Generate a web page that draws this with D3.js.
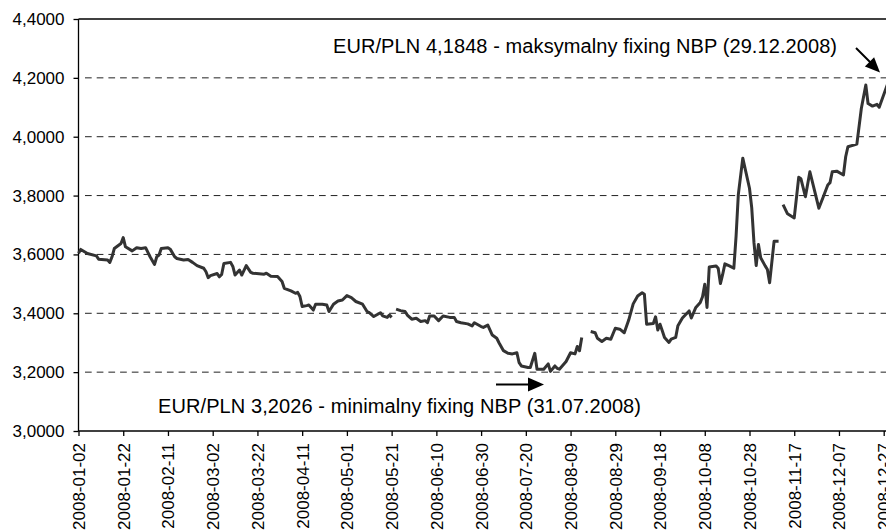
<!doctype HTML>
<html>
<head>
    <style>
        body {
            margin: 0;
            background: #fff;
        }
        text {
            font-family: "Liberation Sans", Arial, sans-serif;
            fill: #000;
        }
    </style>
    <script src="https://d3js.org/d3.v7.min.js"></script>
</head>
<body>
<script>
    // NBP fixing EUR/PLN 2008 (null = no fixing, line breaks)
    var dates = [
        "2008-01-02","2008-01-03","2008-01-06","2008-01-10","2008-01-11","2008-01-15","2008-01-16","2008-01-17",
        "2008-01-18","2008-01-21","2008-01-22","2008-01-23","2008-01-26","2008-01-28","2008-01-30","2008-02-01",
        "2008-02-03","2008-02-05","2008-02-06","2008-02-07","2008-02-08","2008-02-11","2008-02-12","2008-02-14",
        "2008-02-15","2008-02-18","2008-02-20","2008-02-22","2008-02-24","2008-02-27","2008-02-28","2008-02-29",
        "2008-03-01","2008-03-04","2008-03-05","2008-03-06","2008-03-07","2008-03-10","2008-03-11","2008-03-12",
        "2008-03-14","2008-03-15","2008-03-17","2008-03-19","2008-03-20","2008-03-25","2008-03-26","2008-03-28",
        "2008-03-31","2008-04-02","2008-04-03","2008-04-06","2008-04-08","2008-04-09","2008-04-10","2008-04-11",
        "2008-04-13","2008-04-14","2008-04-16","2008-04-17","2008-04-20","2008-04-22","2008-04-23","2008-04-25",
        "2008-04-27","2008-04-29","2008-05-01","2008-05-03","2008-05-05","2008-05-08","2008-05-10","2008-05-11",
        "2008-05-13","2008-05-16","2008-05-17","2008-05-19","2008-05-20","2008-05-21","2008-05-22","2008-05-23",
        "2008-05-25","2008-05-27","2008-05-28","2008-05-30","2008-06-01","2008-06-03","2008-06-05","2008-06-06",
        "2008-06-07","2008-06-09","2008-06-11","2008-06-13","2008-06-16","2008-06-18","2008-06-19","2008-06-21",
        "2008-06-24","2008-06-26","2008-06-27","2008-06-30","2008-07-01","2008-07-03","2008-07-05","2008-07-07",
        "2008-07-08","2008-07-10","2008-07-12","2008-07-14","2008-07-16","2008-07-17","2008-07-18","2008-07-21",
        "2008-07-22","2008-07-24","2008-07-25","2008-07-28","2008-07-30","2008-07-31","2008-08-02","2008-08-03",
        "2008-08-04","2008-08-07","2008-08-09","2008-08-11","2008-08-12","2008-08-13","2008-08-14","2008-08-15",
        "2008-08-18","2008-08-20","2008-08-21","2008-08-23","2008-08-25","2008-08-27","2008-08-29","2008-08-31",
        "2008-09-02","2008-09-04","2008-09-06","2008-09-08","2008-09-10","2008-09-11","2008-09-12","2008-09-15",
        "2008-09-16","2008-09-17","2008-09-18","2008-09-19","2008-09-20","2008-09-22","2008-09-23","2008-09-25",
        "2008-09-26","2008-09-28","2008-10-01","2008-10-02","2008-10-04","2008-10-06","2008-10-07","2008-10-08",
        "2008-10-09","2008-10-10","2008-10-13","2008-10-14","2008-10-15","2008-10-16","2008-10-17","2008-10-19",
        "2008-10-21","2008-10-22","2008-10-23","2008-10-25","2008-10-28","2008-10-29","2008-10-30","2008-10-31",
        "2008-11-01","2008-11-02","2008-11-04","2008-11-05","2008-11-06","2008-11-08","2008-11-10","2008-11-11",
        "2008-11-12","2008-11-14","2008-11-17","2008-11-19","2008-11-20","2008-11-22","2008-11-24","2008-11-26",
        "2008-11-28","2008-11-30","2008-12-02","2008-12-03","2008-12-04","2008-12-06","2008-12-09","2008-12-10",
        "2008-12-11","2008-12-15","2008-12-17","2008-12-19","2008-12-20","2008-12-22","2008-12-24","2008-12-25",
        "2008-12-29"
    ];
    var fixing = [
        3.604, 3.617, 3.603, 3.595, 3.584, 3.581, 3.573, 3.592,
        3.620, 3.637, 3.657, 3.626, 3.612, 3.623, 3.620, 3.623,
        3.592, 3.566, 3.592, 3.598, 3.620, 3.623, 3.618, 3.592,
        3.586, 3.581, 3.583, 3.573, 3.562, 3.553, 3.541, 3.521,
        3.528, 3.535, 3.524, 3.532, 3.569, 3.573, 3.559, 3.530,
        3.547, 3.530, 3.562, 3.539, 3.536, 3.533, 3.536, 3.526,
        3.525, 3.508, 3.485, 3.476, 3.468, 3.471, 3.457, 3.423,
        3.426, 3.428, 3.411, 3.431, 3.431, 3.428, 3.406, 3.431,
        3.442, 3.445, 3.460, 3.453, 3.440, 3.431, 3.406, 3.402,
        3.389, 3.402, 3.391, 3.386, 3.394, 3.386, null,  3.414,
        3.409, 3.406, 3.394, 3.380, 3.383, 3.372, 3.375, 3.368,
        3.391, 3.391, 3.375, 3.391, 3.386, 3.386, 3.372, 3.368,
        3.364, 3.357, 3.368, 3.355, 3.352, 3.360, 3.326, 3.315,
        3.300, 3.273, 3.264, 3.262, 3.266, 3.232, 3.221, 3.216,
        3.216, 3.264, 3.210, 3.210, 3.228, 3.2026, 3.221, 3.213,
        3.210, 3.236, 3.266, 3.262, 3.287, 3.273, 3.318, null,
        3.338, 3.334, 3.315, 3.304, 3.315, 3.312, 3.349, 3.346,
        3.334, 3.377, 3.432, 3.459, 3.470, 3.465, 3.363, 3.365,
        3.388, 3.343, 3.363, 3.341, 3.318, 3.301, 3.312, 3.318,
        3.358, 3.384, 3.408, 3.384, 3.420, 3.437, 3.456, 3.499,
        3.420, 3.557, 3.561, 3.553, 3.501, 3.532, 3.568, 3.561,
        3.553, 3.662, 3.803, 3.927, 3.825, 3.758, 3.640, 3.562,
        3.634, 3.589, 3.561, 3.549, 3.504, 3.645, 3.645, null,
        3.769, 3.738, 3.724, 3.862, 3.857, 3.796, 3.881, 3.819,
        3.757, 3.796, 3.836, 3.844, 3.881, 3.883, 3.870, 3.932,
        3.966, 3.975, 4.096, 4.176, 4.113, 4.104, 4.110, 4.100,
        4.1848
    ];
    var xTicks = ["2008-01-02","2008-01-22","2008-02-11","2008-03-02","2008-03-22","2008-04-11","2008-05-01",
        "2008-05-21","2008-06-10","2008-06-30","2008-07-20","2008-08-09","2008-08-29","2008-09-18",
        "2008-10-08","2008-10-28","2008-11-17","2008-12-07","2008-12-27"];
    var yTicks = [3.0, 3.2, 3.4, 3.6, 3.8, 4.0, 4.2, 4.4];
    var maxLabel = "EUR/PLN 4,1848 - maksymalny fixing NBP (29.12.2008)";
    var minLabel = "EUR/PLN 3,2026 - minimalny fixing NBP (31.07.2008)";

    var canvasWidth = 886;
    var canvasHeight = 530;
    var plotLeft = 78.5, plotRight = 886, plotTop = 19, plotBottom = 431;

    var parse = d3.utcParse("%Y-%m-%d");
    var data = dates.map(function(d, i) { return {date: parse(d), value: fixing[i]}; });

    var svg = d3.select("body").append("svg")
        .attr("width", canvasWidth)
        .attr("height", canvasHeight)
        .style("display", "block");

    var xScale = d3.scaleUtc()
        .domain([parse(xTicks[0]), parse(xTicks[xTicks.length - 1])])
        .range([plotLeft, 883.7]);
    var yScale = d3.scaleLinear().domain([3.0, 4.4]).range([plotBottom, plotTop]);

    // dashed gridlines
    svg.append("g").selectAll("line")
        .data(yTicks.filter(function(d) { return d > 3.0 && d < 4.4; }))
        .enter().append("line")
        .attr("x1", plotLeft + 6.5)
        .attr("x2", plotRight)
        .attr("y1", function(d) { return yScale(d); })
        .attr("y2", function(d) { return yScale(d); })
        .attr("stroke", "#222")
        .attr("stroke-width", 1)
        .attr("stroke-dasharray", "6.7,5");

    // frame: top border, left and bottom axis lines
    svg.append("line").attr("x1", plotLeft).attr("x2", plotRight).attr("y1", plotTop).attr("y2", plotTop)
        .attr("stroke", "#000").attr("stroke-width", 1.3);
    svg.append("line").attr("x1", plotLeft).attr("x2", plotLeft).attr("y1", plotTop).attr("y2", plotBottom)
        .attr("stroke", "#000").attr("stroke-width", 1.3);
    svg.append("line").attr("x1", plotLeft).attr("x2", plotRight).attr("y1", plotBottom).attr("y2", plotBottom)
        .attr("stroke", "#000").attr("stroke-width", 1.3);

    // Y axis
    var yAxis = svg.append("g")
        .attr("transform", "translate(" + plotLeft + ",0)")
        .call(d3.axisLeft(yScale)
            .tickValues(yTicks)
            .tickSize(5)
            .tickSizeOuter(0)
            .tickPadding(9)
            .tickFormat(function(d) { return d3.format(".4f")(d).replace(".", ","); }));
    yAxis.select(".domain").remove();
    yAxis.selectAll("line").attr("stroke", "#000").attr("stroke-width", 1.3);
    yAxis.selectAll("text")
        .attr("font-size", "17px")
        .attr("font-family", "Liberation Sans, Arial, sans-serif");

    // X axis with rotated date labels
    var xAxis = svg.append("g")
        .attr("transform", "translate(0," + plotBottom + ")")
        .call(d3.axisBottom(xScale)
            .tickValues(xTicks.map(parse))
            .tickSize(5)
            .tickSizeOuter(0)
            .tickFormat(d3.utcFormat("%Y-%m-%d")));
    xAxis.select(".domain").remove();
    xAxis.selectAll("line").attr("stroke", "#000").attr("stroke-width", 1.3);
    xAxis.selectAll("text")
        .attr("font-size", "17px")
        .attr("font-family", "Liberation Sans, Arial, sans-serif")
        .attr("text-anchor", "end")
        .attr("transform", "rotate(-90)")
        .attr("x", -12)
        .attr("y", 0)
        .attr("dy", "0.35em");

    // the fixing line
    var line = d3.line()
        .defined(function(d) { return d.value != null; })
        .x(function(d) { return xScale(d.date); })
        .y(function(d) { return yScale(d.value); });

    svg.append("path")
        .datum(data)
        .attr("d", line)
        .attr("fill", "none")
        .attr("stroke", "#333")
        .attr("stroke-width", 3)
        .attr("stroke-linejoin", "round");

    // annotations
    svg.append("text")
        .attr("x", 333)
        .attr("y", 53)
        .attr("font-size", "20px")
        .attr("textLength", 504)
        .attr("lengthAdjust", "spacing")
        .text(maxLabel);

    svg.append("text")
        .attr("x", 158)
        .attr("y", 413)
        .attr("font-size", "20px")
        .attr("textLength", 483)
        .attr("lengthAdjust", "spacing")
        .text(minLabel);

    // arrow pointing to the minimum
    svg.append("line").attr("x1", 496).attr("y1", 384.5).attr("x2", 531).attr("y2", 384.5)
        .attr("stroke", "#000").attr("stroke-width", 2);
    svg.append("path").attr("d", "M544,384.5 L528,377.5 L528,391.5 Z").attr("fill", "#000");

    // arrow pointing to the maximum
    svg.append("line").attr("x1", 856).attr("y1", 48).attr("x2", 871).attr("y2", 63)
        .attr("stroke", "#000").attr("stroke-width", 2);
    svg.append("path").attr("d", "M880,72.5 L864.9,66.4 L874.1,57.3 Z").attr("fill", "#000");
</script>
</body>
</html>
